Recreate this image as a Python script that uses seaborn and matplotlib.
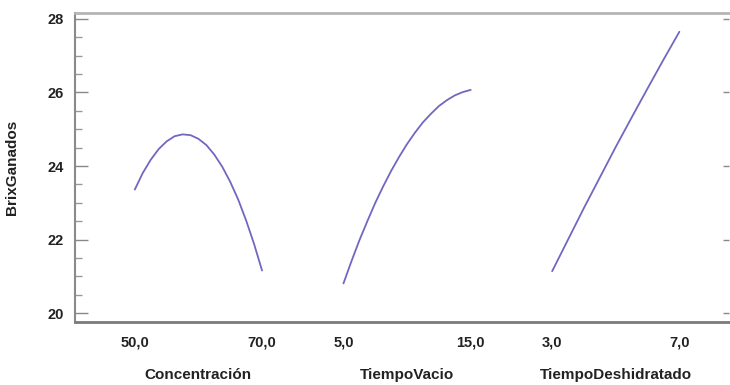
import matplotlib
matplotlib.use("Agg")
import matplotlib.pyplot as plt
from matplotlib.ticker import MultipleLocator
import numpy as np
import pandas as pd
import seaborn as sns

# ---- data (main effects plot) ----
factors = ["Concentración", "TiempoVacio", "TiempoDeshidratado"]
tick_labels = [["50,0", "70,0"], ["5,0", "15,0"], ["3,0", "7,0"]]

conc_levels = [50.0, 51.25, 52.5, 53.75, 55.0, 56.25, 57.5, 58.75, 60.0,
               61.25, 62.5, 63.75, 65.0, 66.25, 67.5, 68.75, 70.0]
conc_values = [23.36, 23.81, 24.17, 24.46, 24.67, 24.81, 24.86, 24.84, 24.74,
               24.57, 24.31, 23.98, 23.57, 23.09, 22.52, 21.88, 21.16]

vacio_levels = [5.0, 5.625, 6.25, 6.875, 7.5, 8.125, 8.75, 9.375, 10.0,
                10.625, 11.25, 11.875, 12.5, 13.125, 13.75, 14.375, 15.0]
vacio_values = [20.81, 21.41, 21.98, 22.50, 23.00, 23.45, 23.87, 24.25, 24.60,
                24.91, 25.19, 25.42, 25.63, 25.79, 25.92, 26.01, 26.07]

deshi_levels = [3.0, 3.5, 4.0, 4.5, 5.0, 5.5, 6.0, 6.5, 7.0]
deshi_values = [21.14, 22.00, 22.86, 23.69, 24.52, 25.32, 26.11, 26.89, 27.65]

ylabel = "BrixGanados"

# ---- layout of the factor panels on a shared axis ----
seg_width = 1.0
seg_gap = 0.64
left_margin = 0.47
right_margin = 0.39

series = [(conc_levels, conc_values), (vacio_levels, vacio_values), (deshi_levels, deshi_values)]
rows = []
seg_starts = []
for i, (name, (lv, vals)) in enumerate(zip(factors, series)):
    start = i * (seg_width + seg_gap)
    seg_starts.append(start)
    lo, hi = min(lv), max(lv)
    for l, v in zip(lv, vals):
        rows.append({"factor": name, "level": l, "value": v,
                     "pos": start + (l - lo) / (hi - lo) * seg_width})
df = pd.DataFrame(rows)

sns.set_style("white")
plt.rcParams["font.family"] = ["Liberation Sans", "DejaVu Sans"]

fig = plt.figure(figsize=(7.3, 3.85), dpi=100)
ax = fig.add_axes([75 / 730, 63 / 385, 654 / 730, 309 / 385])

line_color = "#7068c0"
sns.lineplot(data=df, x="pos", y="value", hue="factor", palette=[line_color] * 3,
             estimator=None, sort=False, legend=False, linewidth=1.3, ax=ax)

ax.set_xlim(-left_margin, seg_starts[-1] + seg_width + right_margin)
ax.set_ylim(19.76, 28.16)

# x ticks at each factor's low / high level
xt, xl = [], []
for s, labs in zip(seg_starts, tick_labels):
    xt += [s, s + seg_width]
    xl += labs
ax.set_xticks(xt)
ax.set_xticklabels(xl, fontsize=10.5, fontweight="bold", color="#222222")
ax.tick_params(axis="x", length=0, pad=10)

ax.yaxis.set_major_locator(MultipleLocator(2))
ax.yaxis.set_minor_locator(MultipleLocator(0.5))
ax.tick_params(axis="y", which="major", direction="in", length=9, width=1,
               color="#888888", labelsize=10.5, pad=8, left=True, right=False)
ax.tick_params(axis="y", which="minor", direction="in", length=5, width=1,
               color="#999999", left=True, right=False)
for t in ax.get_yticklabels():
    t.set_fontweight("bold")
    t.set_color("#222222")

# short inward ticks on the right edge (major only)
sec = ax.secondary_yaxis("right")
sec.yaxis.set_major_locator(MultipleLocator(2))
sec.tick_params(axis="y", which="both", direction="in", length=4, width=1,
                color="#888888", labelright=False)
sec.yaxis.set_minor_locator(MultipleLocator(100))
sec.spines["right"].set_visible(False)

ax.set_xlabel("")
ax.set_ylabel(ylabel, fontsize=11, fontweight="bold", color="#222222")
ax.yaxis.set_label_coords(-56 / 654, 0.5)

# factor names under each panel
for s, name in zip(seg_starts, factors):
    ax.text(s + seg_width / 2, -0.172, name, transform=ax.get_xaxis_transform(),
            ha="center", va="center", fontsize=11, fontweight="bold", color="#222222")

ax.spines["right"].set_visible(False)
ax.spines["top"].set_color("#b5b5b5")
ax.spines["top"].set_linewidth(2)
ax.spines["left"].set_color("#8a8a8a")
ax.spines["left"].set_linewidth(1.5)
ax.spines["bottom"].set_color("#7a7a7a")
ax.spines["bottom"].set_linewidth(2)

fig.savefig("out.png", dpi=100)
